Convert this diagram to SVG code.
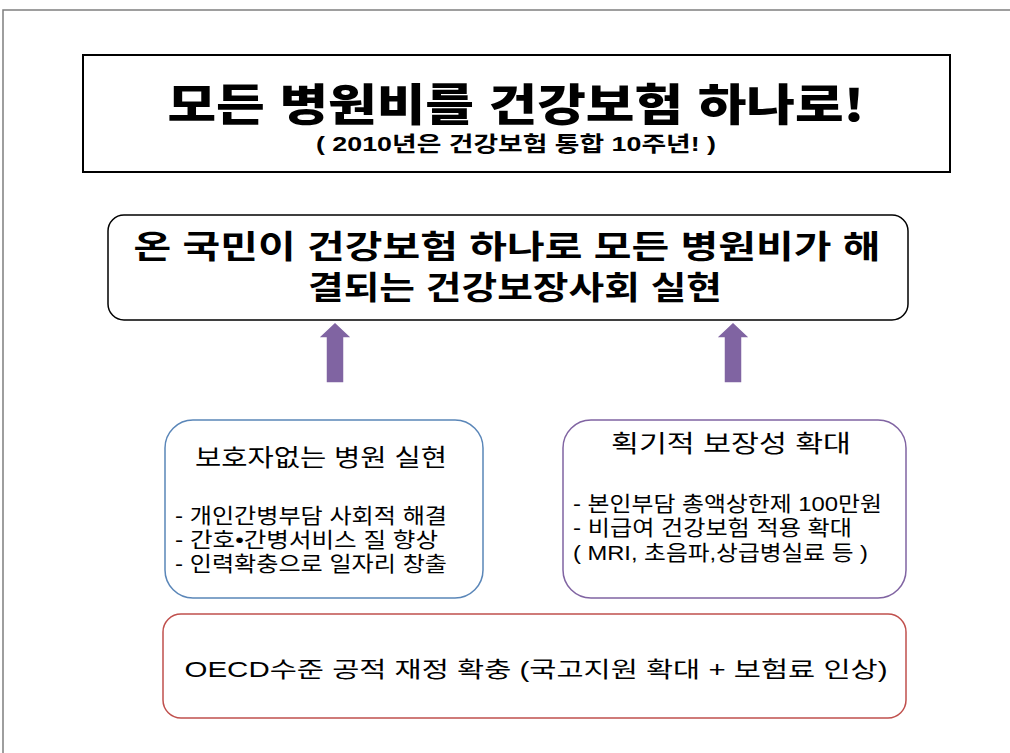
<svg xmlns="http://www.w3.org/2000/svg" width="1010" height="753" viewBox="0 0 1010 753">
<style>
text{font-family:"Liberation Sans","Noto Sans CJK KR",sans-serif;fill:#000;text-anchor:middle}
.b{font-weight:700}
.h{font-weight:900}
.l{text-anchor:start}
.k{font-family:"Noto Sans CJK KR",sans-serif}
.box{fill:#fff;stroke-width:1.5}
</style>
<defs>
<path id="arr" d="M-9,61 L-9,16 L-17,16 L0,0 L17,16 L9,16 L9,61 Z" fill="#8064a2" stroke="#fff" stroke-width="1.5"/>
</defs>
<rect width="1010" height="753" fill="#fff"/>
<path d="M3,753 L3,10 L1010,10" fill="none" stroke="#7f7f7f" stroke-width="1.5"/>
<g id="title">
<rect x="83" y="55" width="867" height="117" fill="#fff" stroke="#000" stroke-width="2"/>
<text x="516" y="121" class="h" font-size="44" textLength="697" lengthAdjust="spacingAndGlyphs">모든 병원비를 건강보험 하나로<tspan class="k">!</tspan></text>
<text x="516" y="151" class="b" font-size="21" textLength="400" lengthAdjust="spacingAndGlyphs">( 2010년은 건강보험 통합 10주년! )</text>
</g>
<g id="goal">
<rect x="108" y="215" width="800" height="105" rx="16" class="box" stroke="#000" stroke-width="2"/>
<text x="507" y="258" class="b" font-size="32" textLength="747" lengthAdjust="spacingAndGlyphs">온 국민이 건강보험 하나로 모든 병원비가 해</text>
<text x="515" y="299" class="b" font-size="32" textLength="414" lengthAdjust="spacingAndGlyphs">결되는 건강보장사회 실현</text>
</g>
<g id="connectors">
<use href="#arr" x="335" y="322"/>
<use href="#arr" x="733" y="322"/>
</g>
<g id="left">
<rect x="165" y="420" width="318" height="178" rx="28" class="box" stroke="#5a86b8"/>
<text x="321" y="466" font-size="24" textLength="252" lengthAdjust="spacingAndGlyphs">보호자없는 병원 실현</text>
<text x="175" y="523" font-size="21" class="l" textLength="272" lengthAdjust="spacingAndGlyphs">- 개인간병부담 사회적 해결</text>
<text x="175" y="547" font-size="21" class="l" textLength="263" lengthAdjust="spacingAndGlyphs">- 간호•간병서비스 질 향상</text>
<text x="175" y="571" font-size="21" class="l" textLength="272" lengthAdjust="spacingAndGlyphs">- 인력확충으로 일자리 창출</text>
</g>
<g id="right">
<rect x="563" y="420" width="343" height="178" rx="28" class="box" stroke="#8064a2"/>
<text x="731" y="452" font-size="24" textLength="240" lengthAdjust="spacingAndGlyphs">획기적 보장성 확대</text>
<text x="573" y="511" font-size="21" class="l" textLength="309" lengthAdjust="spacingAndGlyphs">- 본인부담 총액상한제 100만원</text>
<text x="573" y="535" font-size="21" class="l" textLength="279" lengthAdjust="spacingAndGlyphs">- 비급여 건강보험 적용 확대</text>
<text x="573" y="560" font-size="21" class="l" textLength="295" lengthAdjust="spacingAndGlyphs">( MRI, 초음파,상급병실료 등 )</text>
</g>
<g id="bottom">
<rect x="163" y="614" width="743" height="104" rx="18" class="box" stroke="#c0504d"/>
<text x="536" y="677" font-size="22" textLength="703" lengthAdjust="spacingAndGlyphs">OECD수준 공적 재정 확충  (국고지원 확대 + 보험료 인상)</text>
</g>
</svg>
